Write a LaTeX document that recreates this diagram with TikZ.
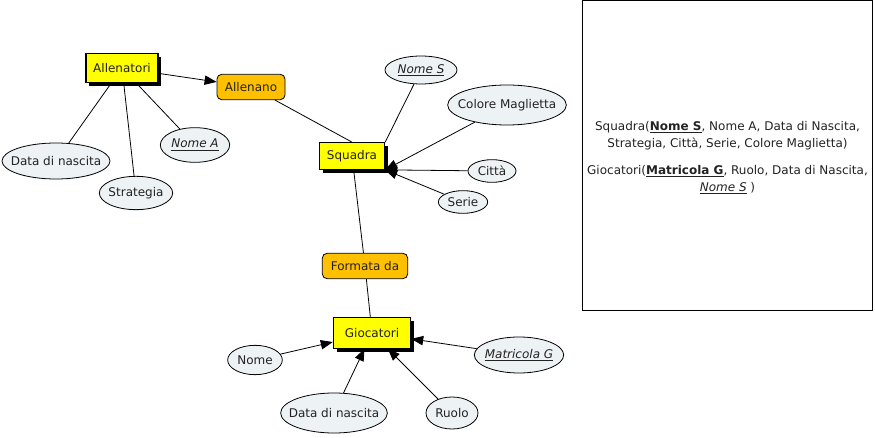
\documentclass[tikz,border=0pt]{standalone}
\usepackage{fontspec}
\setmainfont{DejaVu Sans}
\usetikzlibrary{shapes.geometric,shadows,arrows.meta}
\definecolor{giallo}{HTML}{FFFF00}
\definecolor{arancio}{HTML}{FFC000}
\definecolor{azzurro}{HTML}{EDF2F4}
\definecolor{testo}{HTML}{222222}
\newcommand{\etich}[1]{\makebox[0pt]{#1}}
\tikzset{
	entita/.style = {draw, fill = giallo, line width = 0.8pt, inner sep = 0pt, text = testo,
		drop shadow = {shadow xshift = 2.5pt, shadow yshift = -2.5pt, fill = black, opacity = 1}},
	relazione/.style = {draw, fill = arancio, rounded corners = 3.5pt, line width = 0.6pt, inner sep = 0pt, text = testo},
	attributo/.style = {draw, ellipse, fill = azzurro, line width = 0.6pt, inner sep = 0pt, text = testo},
	chiave/.style = {attributo, font = \fontsize{9}{10}\itshape\selectfont},
	freccia/.style = {-{Triangle[length = 9pt, width = 7pt]}, line width = 0.6pt},
	linea/.style = {line width = 0.6pt}
}
\begin{document}
\begin{tikzpicture}[x = 0.75pt, y = -0.75pt, font = \fontsize{9}{10}\selectfont]
	\useasboundingbox (0,0) rectangle (875,438);

	\node (al)[entita, minimum width = 54pt, minimum height = 22pt] at(122, 68) {Allenatori};
	\node (an)[relazione, minimum width = 51pt, minimum height = 19pt] at(251, 87) {Allenano};
	\node (sq)[entita, minimum width = 49pt, minimum height = 20pt] at(352, 156) {Squadra};
	\node (fd)[relazione, minimum width = 64pt, minimum height = 19pt] at(365, 266) {Formata da};
	\node (gi)[entita, minimum width = 58pt, minimum height = 23pt] at(372, 333) {Giocatori};

	\node (dn)[attributo, minimum width = 81pt, minimum height = 27pt] at(56, 161) {\etich{Data di nascita}};
	\node (st)[attributo, minimum width = 55pt, minimum height = 25pt] at(136, 193) {\etich{Strategia}};
	\node (na)[chiave, minimum width = 52pt, minimum height = 26pt] at(195, 145) {\etich{\underline{Nome A}}};

	\node (ns)[chiave, minimum width = 54pt, minimum height = 21pt] at(421, 70) {\etich{\underline{Nome S}}};
	\node (cm)[attributo, minimum width = 89pt, minimum height = 30pt] at(507, 105) {\etich{Colore Maglietta}};
	\node (ci)[attributo, minimum width = 36pt, minimum height = 17pt] at(492, 171) {\etich{Città}};
	\node (se)[attributo, minimum width = 37pt, minimum height = 17pt] at(463, 202) {\etich{Serie}};

	\node (no)[attributo, minimum width = 41pt, minimum height = 22pt] at(255, 360) {\etich{Nome}};
	\node (dg)[attributo, minimum width = 80pt, minimum height = 30pt] at(334, 413) {\etich{Data di nascita}};
	\node (ru)[attributo, minimum width = 39pt, minimum height = 24pt] at(452, 413) {\etich{Ruolo}};
	\node (mg)[chiave, minimum width = 67pt, minimum height = 27pt] at(519, 355) {\etich{\underline{Matricola G}}};

	\draw [freccia](al)--(an);
	\draw [linea](an)--(sq.north);
	\draw [linea](sq)--(fd);
	\draw [linea](fd)--(gi);

	\draw [linea](al)--(dn);
	\draw [linea](al)--(st);
	\draw [linea](al)--(na);

	\draw [linea](ns)--(sq.north east);
	\draw [freccia](cm)--(sq.south east);
	\draw [freccia](ci)--(sq.south east);
	\draw [freccia](se)--(sq.south east);

	\draw [freccia](no)--(gi);
	\draw [freccia](dg)--(gi);
	\draw [freccia](ru)--(gi);
	\draw [freccia](mg)--(gi);

	\node (sc)[draw, line width = 0.6pt, minimum width = 218pt, minimum height = 232pt] at(727.5, 155.5) {};
	\node (tx)[align = center, text = testo, font = \fontsize{9}{12.75}\selectfont] at(727.5, 158)
		{Squadra(\underline{\textbf{Nome S}}, Nome A, Data di Nascita,\\
		Strategia, Città, Serie, Colore Maglietta)\\[7.5pt]
		Giocatori(\underline{\textbf{Matricola G}}, Ruolo, Data di Nascita,\\
		\underline{\textit{Nome S}} )};
\end{tikzpicture}
\end{document}
